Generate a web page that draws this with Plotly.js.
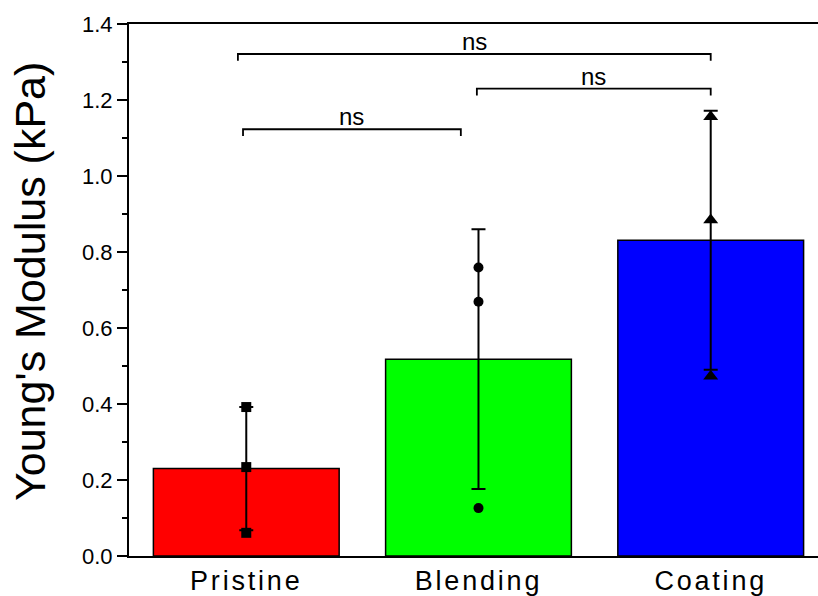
<!DOCTYPE html>
<html>
<head>
<meta charset="utf-8">
<script src="https://cdn.plot.ly/plotly-3.0.1.min.js"></script>
<style>
  html, body { margin: 0; padding: 0; background: #fff; }
  #chart { width: 818px; height: 596px; }
  .xtick text { letter-spacing: 2.8px; }
</style>
</head>
<body>
<div id="chart"></div>
<script>
// ---- data ----
const categories = ['Pristine', 'Blending', 'Coating'];
const means = [0.230, 0.518, 0.831];
const sdErrors = [0.162, 0.342, 0.341];
const barColors = ['#FF0000', '#00FF00', '#0000FF'];
const pristinePoints = [0.392, 0.234, 0.061];
const blendingPoints = [0.759, 0.669, 0.126];
const coatingPoints = [1.156, 0.884, 0.473];
const pointSymbols = ['square', 'circle', 'triangle-up'];
const pointSizes = [10, 10, 13];
const yTickVals = [0.0, 0.2, 0.4, 0.6, 0.8, 1.0, 1.2, 1.4];
const yTickText = ['0.0', '0.2', '0.4', '0.6', '0.8', '1.0', '1.2', '1.4'];
const yTitle = "Young's Modulus (kPa)";
// significance brackets: from/to x (category units), height (kPa), label
const bracketX0 = [-0.014, 0.993, -0.036];
const bracketX1 = [0.924, 2.0, 2.0];
const bracketY = [1.123, 1.230, 1.321];
const bracketLabels = ['ns', 'ns', 'ns'];

const FONT = 'Liberation Sans, Arial, Helvetica, sans-serif';
const xIdx = categories.map((c, i) => i);

const traces = [{
  type: 'bar',
  x: xIdx,
  y: means,
  width: 0.8,
  marker: { color: barColors, line: { color: '#000', width: 1.5 } },
  error_y: { type: 'data', array: sdErrors, visible: true, color: '#000', thickness: 2, width: 7 },
  hoverinfo: 'skip',
  showlegend: false
}];

const pointSets = [pristinePoints, blendingPoints, coatingPoints];
pointSets.forEach((pts, i) => {
  traces.push({
    type: 'scatter',
    mode: 'markers',
    x: pts.map(() => i),
    y: pts,
    marker: { symbol: pointSymbols[i], size: pointSizes[i], color: '#000' },
    showlegend: false,
    hoverinfo: 'y'
  });
});

const legH = 0.018;
const shapes = [];
const annotations = [];
bracketY.forEach((y, i) => {
  const x0 = bracketX0[i], x1 = bracketX1[i];
  shapes.push({
    type: 'path', xref: 'x', yref: 'y',
    path: `M ${x0} ${y - legH} L ${x0} ${y} L ${x1} ${y} L ${x1} ${y - legH}`,
    line: { color: '#000', width: 1.8 }
  });
  annotations.push({
    xref: 'x', yref: 'y', x: (x0 + x1) / 2, y: y,
    text: bracketLabels[i], showarrow: false,
    yanchor: 'bottom', yshift: -3,
    font: { family: FONT, size: 24, color: '#000' }
  });
});

// y-axis title (rotated text, slightly above the axis centre as in the reference)
annotations.push({
  xref: 'paper', yref: 'paper', x: -0.1437, y: 0.517,
  xanchor: 'center', yanchor: 'middle', textangle: -90,
  text: yTitle, showarrow: false,
  font: { family: FONT, size: 43, color: '#000' }
});

const layout = {
  width: 818, height: 596,
  margin: { l: 129, r: 0, t: 24, b: 40, pad: 0 },
  paper_bgcolor: '#fff', plot_bgcolor: '#fff',
  xaxis: {
    range: [-0.505, 2.462],
    tickvals: xIdx, ticktext: categories,
    showline: true, linecolor: '#000', linewidth: 2, mirror: true,
    ticks: '', showgrid: false, zeroline: false,
    tickfont: { family: FONT, size: 27, color: '#000' },
    automargin: false
  },
  yaxis: {
    range: [0, 1.4],
    tickvals: yTickVals, ticktext: yTickText,
    showline: true, linecolor: '#000', linewidth: 2,
    ticks: 'outside', ticklen: 10, tickwidth: 2, tickcolor: '#000',
    minor: { dtick: 0.2, tick0: 0.1, ticks: 'outside', ticklen: 5, tickwidth: 2, tickcolor: '#000', showgrid: false },
    showgrid: false, zeroline: false,
    tickfont: { family: FONT, size: 22, color: '#000' },
    ticklabelstandoff: 0,
    automargin: false
  },
  shapes: shapes,
  annotations: annotations,
  bargap: 0.2
};

Plotly.newPlot('chart', traces, layout, { displayModeBar: false, staticPlot: true });
</script>
</body>
</html>
